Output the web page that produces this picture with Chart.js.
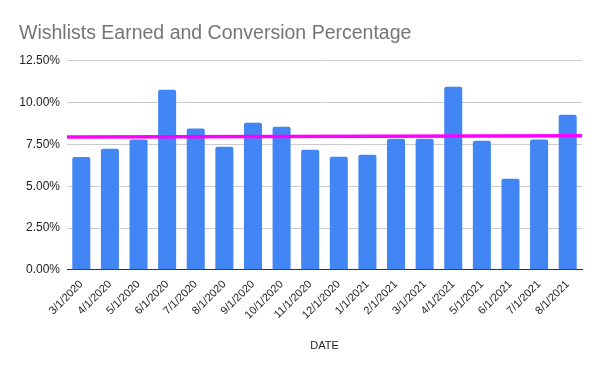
<!DOCTYPE html>
<html>
<head>
<meta charset="utf-8">
<script src="https://cdn.jsdelivr.net/npm/chart.js@4/dist/chart.umd.min.js"></script>
<style>
html,body{margin:0;padding:0;background:#fff;}
#wrap{position:relative;width:600px;height:371px;}
</style>
</head>
<body>
<div id="wrap"><canvas id="c" width="600" height="371"></canvas></div>
<script>
const categories = ["3/1/2020","4/1/2020","5/1/2020","6/1/2020","7/1/2020","8/1/2020","9/1/2020","10/1/2020","11/1/2020","12/1/2020","1/1/2021","2/1/2021","3/1/2021","4/1/2021","5/1/2021","6/1/2021","7/1/2021","8/1/2021"];
const conversionPct = [6.75,7.25,7.8,10.78,8.45,7.37,8.8,8.56,7.19,6.77,6.89,7.84,7.84,10.95,7.73,5.45,7.8,9.28];
const trendLabels = ["start","end"];
const trendValues = [7.95,8.03];
const yTicks = [0,2.5,5,7.5,10,12.5];

const FONT = "'Liberation Sans', Arial, sans-serif";

new Chart(document.getElementById('c'), {
  type: 'bar',
  data: {
    labels: categories,
    datasets: [
      {
        type: 'bar',
        label: 'Conversion',
        data: conversionPct,
        backgroundColor: '#4285f4',
        borderRadius: {topLeft: 2, topRight: 2},
        borderSkipped: 'bottom',
        grouped: false,
        barPercentage: 0.63,
        categoryPercentage: 1,
        order: 1
      },
      {
        type: 'line',
        label: 'Trend',
        data: trendValues,
        xAxisID: 'x2',
        borderColor: '#ff00ff',
        borderWidth: 3.5,
        pointRadius: 0,
        fill: false,
        order: 0
      }
    ]
  },
  options: {
    responsive: false,
    animation: false,
    layout: {padding: {left: 19, right: 18, top: 8, bottom: 14}},
    plugins: {
      legend: {display: false},
      tooltip: {enabled: false},
      title: {
        display: true,
        text: 'Wishlists Earned and Conversion Percentage',
        align: 'start',
        color: '#757575',
        font: {family: FONT, size: 19.5, weight: 'normal'},
        padding: {top: 14, bottom: 15.5}
      }
    },
    scales: {
      x: {
        type: 'category',
        offset: true,
        grid: {display: false, drawTicks: false},
        border: {display: true, color: '#333333', width: 1},
        afterFit: (scale) => { scale.paddingLeft = 0; },
        ticks: {
          color: '#222222',
          font: {family: FONT, size: 11},
          maxRotation: 45,
          minRotation: 45,
          autoSkip: false,
          padding: 8
        },
        title: {
          display: true,
          text: 'DATE',
          color: '#222222',
          font: {family: FONT, size: 11},
          padding: {top: 10}
        }
      },
      x2: {
        type: 'category',
        labels: trendLabels,
        offset: false,
        display: false,
        ticks: {display: false}
      },
      y: {
        min: 0,
        max: 12.5,
        afterBuildTicks: (axis) => { axis.ticks = yTicks.map(v => ({value: v})); },
        afterFit: (scale) => { scale.width = 48; },
        grid: {color: '#cccccc', drawTicks: false},
        border: {display: false},
        ticks: {
          color: '#222222',
          font: {family: FONT, size: 12},
          padding: 7,
          callback: (v) => Number(v).toFixed(2) + '%'
        }
      }
    }
  }
});
</script>
</body>
</html>
